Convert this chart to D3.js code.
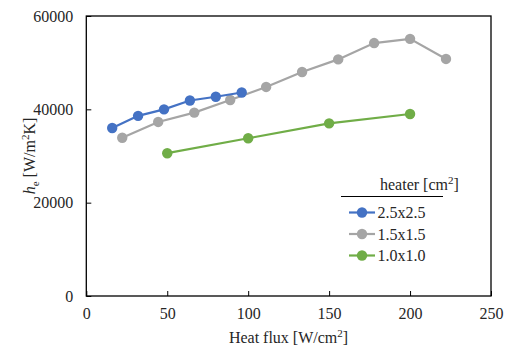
<!DOCTYPE html>
<html><head><meta charset="utf-8">
<script src="https://cdn.jsdelivr.net/npm/d3@7"></script>
<style>body{margin:0;background:#fff}</style>
</head><body>
<svg id="c" width="511" height="349" style="font-family:'Liberation Serif',serif"></svg>
<script>
const xTicks=[0,50,100,150,200,250];
const yTicks=[0,20000,40000,60000];
const s25x=[16,32,48,64,80,96];
const s25y=[36000,38600,40000,41900,42700,43600];
const s15x=[22.2,44.4,66.7,88.9,111.1,133.3,155.6,177.8,200,222.2];
const s15y=[33900,37300,39300,42000,44800,48000,50700,54200,55100,50800];
const s10x=[50,100,150,200];
const s10y=[30600,33800,37000,39000];
const seriesNames=["2.5x2.5","1.5x1.5","1.0x1.0"];
const colors=["#4472C4","#A5A5A5","#70AD47"];
const FF="'Liberation Serif', serif";
const TC="#262626";

const svg=d3.select("#c");
const L=86.3,R=491,T=16,B=296;
const x=d3.scaleLinear().domain([0,250]).range([L,R]);
const y=d3.scaleLinear().domain([0,60000]).range([B,T]);

svg.append("rect").attr("x",L).attr("y",T).attr("width",R-L).attr("height",B-T)
  .attr("fill","none").attr("stroke","#000").attr("stroke-width",1.3);

const xa=svg.append("g").attr("transform",`translate(0,${B})`)
  .call(d3.axisBottom(x).tickValues(xTicks).tickSize(-5).tickPadding(12));
xa.attr("font-family",null);
xa.select(".domain").remove();
xa.selectAll("text").style("font-family",FF).attr("font-size",16).attr("fill",TC);
xa.selectAll("line").attr("stroke","#000");
const ya=svg.append("g").attr("transform",`translate(${L},0)`)
  .call(d3.axisLeft(y).tickValues(yTicks).tickSize(-5).tickPadding(13).tickFormat(d3.format("d")));
ya.attr("font-family",null);
ya.select(".domain").remove();
ya.selectAll("text").style("font-family",FF).attr("font-size",16).attr("fill",TC);
ya.selectAll("line").attr("stroke","#000");

const data=[[s25x,s25y],[s15x,s15y],[s10x,s10y]];
const line=d3.line().x(d=>x(d[0])).y(d=>y(d[1]));
[1,2,0].forEach(i=>{
  const pts=data[i][0].map((v,j)=>[v,data[i][1][j]]);
  svg.append("path").datum(pts).attr("d",line).attr("fill","none").attr("stroke",colors[i]).attr("stroke-width",2.2);
  svg.selectAll(null).data(pts).enter().append("circle").attr("cx",d=>x(d[0])).attr("cy",d=>y(d[1])).attr("r",5.2).attr("fill",colors[i]);
});

svg.append("text").attr("x",288.5).attr("y",343).attr("text-anchor","middle").attr("font-size",16).attr("fill",TC).style("font-family",FF)
  .html('Heat flux [W/cm<tspan dy="-6" font-size="11">2</tspan><tspan dy="6">]</tspan>');
svg.append("text").attr("transform","translate(35,156) rotate(-90)").attr("text-anchor","middle").attr("font-size",16).attr("fill",TC).style("font-family",FF)
  .html('<tspan font-style="italic">h</tspan><tspan dy="4" font-size="11">e</tspan><tspan dy="-4"> [W/m</tspan><tspan dy="-6" font-size="11">2</tspan><tspan dy="6">K]</tspan>');

svg.append("text").attr("x",380).attr("y",190).attr("font-size",16).attr("fill",TC).style("font-family",FF)
  .html('heater [cm<tspan dy="-6" font-size="11">2</tspan><tspan dy="6">]</tspan>');
svg.append("line").attr("x1",341).attr("x2",443).attr("y1",196.5).attr("y2",196.5).attr("stroke","#000").attr("stroke-width",1.2);
const ly=[212.5,234,255.5];
seriesNames.forEach((n,i)=>{
  svg.append("line").attr("x1",349).attr("x2",375).attr("y1",ly[i]).attr("y2",ly[i]).attr("stroke",colors[i]).attr("stroke-width",2.2);
  svg.append("circle").attr("cx",362).attr("cy",ly[i]).attr("r",5.2).attr("fill",colors[i]);
  svg.append("text").attr("x",377.5).attr("y",ly[i]+5.5).attr("font-size",16).attr("fill",TC).style("font-family",FF).text(n);
});
</script>
</body></html>
